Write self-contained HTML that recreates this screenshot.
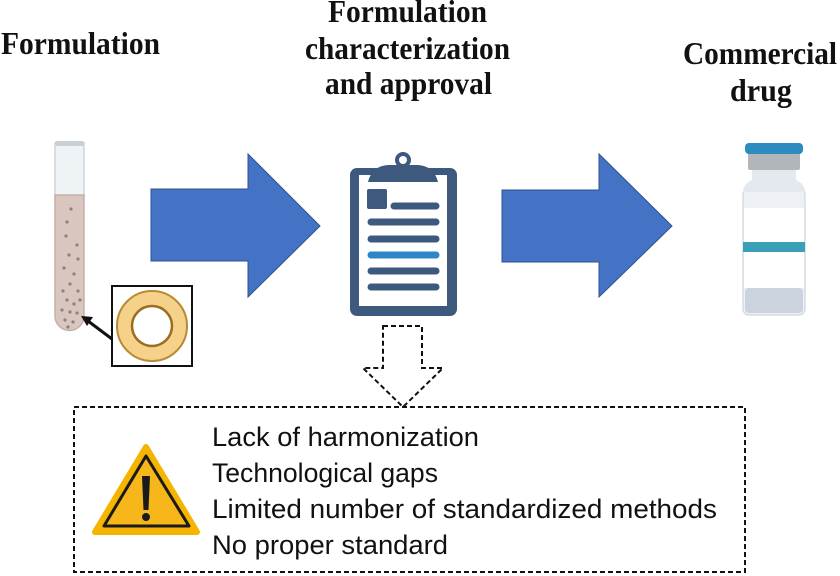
<!DOCTYPE html>
<html><head><meta charset="utf-8"><style>
html,body{margin:0;padding:0;background:#fff;}
svg{display:block;}
</style></head><body>
<svg width="840" height="576" viewBox="0 0 840 576" xmlns="http://www.w3.org/2000/svg">
<rect width="840" height="576" fill="#fff"/>
<!-- Headings -->
<g font-family="'Liberation Serif', serif" font-weight="bold" fill="#111">
<text x="1" y="54" font-size="32" textLength="159" lengthAdjust="spacingAndGlyphs">Formulation</text>
<text x="328" y="22" font-size="32" textLength="159" lengthAdjust="spacingAndGlyphs">Formulation</text>
<text x="305" y="59" font-size="32" textLength="205" lengthAdjust="spacingAndGlyphs">characterization</text>
<text x="325" y="94" font-size="32" textLength="167" lengthAdjust="spacingAndGlyphs">and approval</text>
<text x="683" y="64" font-size="32" textLength="154" lengthAdjust="spacingAndGlyphs">Commercial</text>
<text x="730" y="101" font-size="32" textLength="62" lengthAdjust="spacingAndGlyphs">drug</text>
</g>
<!-- Blue arrows -->
<polygon points="151,189 248,189 248,154 320,226 248,297 248,261 151,261" fill="#4472C4" stroke="#2F528F" stroke-width="1"/>
<polygon points="502,190 599,190 599,154 672,226 599,297 599,262 502,262" fill="#4472C4" stroke="#2F528F" stroke-width="1"/>
<!-- Test tube -->
<rect x="55" y="143" width="29" height="56" fill="#EEF3F6" stroke="#CDD5DA" stroke-width="1.5"/>
<rect x="55" y="141" width="29" height="5" rx="2" fill="#C9D0D5"/>
<path d="M55,195 L84,195 L84,316 A14.5,14.5 0 0 1 55,316 Z" fill="#D9C6BF" stroke="#C5B1AA" stroke-width="1.5"/>
<g fill="#8E817D">
<circle cx="71" cy="209" r="1.6"/><circle cx="67" cy="222" r="1.6"/><circle cx="66" cy="236" r="1.6"/><circle cx="77" cy="245" r="1.6"/>
<circle cx="69" cy="255" r="1.6"/><circle cx="78" cy="259" r="1.6"/><circle cx="64" cy="268" r="1.6"/><circle cx="74" cy="274" r="1.6"/>
<circle cx="70" cy="284" r="1.6"/><circle cx="63" cy="291" r="1.6"/><circle cx="78" cy="291" r="1.6"/><circle cx="67" cy="300" r="1.6"/>
<circle cx="74" cy="304" r="1.6"/><circle cx="80" cy="300" r="1.6"/><circle cx="62" cy="310" r="1.6"/><circle cx="70" cy="312" r="1.6"/>
<circle cx="77" cy="313" r="1.6"/><circle cx="65" cy="320" r="1.6"/><circle cx="73" cy="322" r="1.6"/><circle cx="68" cy="327" r="1.6"/>
</g>
<!-- Inset box with liposome -->
<rect x="112" y="286" width="80" height="80" fill="#fff" stroke="#111" stroke-width="2"/>
<circle cx="152" cy="326" r="35" fill="#F6D189" stroke="#B88A36" stroke-width="2"/>
<circle cx="152" cy="326" r="20" fill="#fff" stroke="#9A6E22" stroke-width="2.5"/>
<line x1="112" y1="339" x2="88" y2="321" stroke="#111" stroke-width="3"/>
<polygon points="81,316 93,317 87,326" fill="#111"/>
<!-- Clipboard -->
<rect x="350" y="168" width="107" height="148" rx="7" fill="#3D5A7E"/>
<rect x="359" y="175" width="88" height="131" fill="#fff"/>
<path d="M368,182 Q372,166 388,165 L418,165 Q434,166 438,182 Z" fill="#3D5A7E"/>
<circle cx="403" cy="160" r="6" fill="none" stroke="#3D5A7E" stroke-width="4"/>
<rect x="367" y="189" width="20" height="20" rx="2" fill="#3D5A7E"/>
<g stroke-linecap="round" stroke-width="7">
<line x1="394" y1="206" x2="436" y2="206" stroke="#3D5A7E"/>
<line x1="371" y1="222" x2="436" y2="222" stroke="#3D5A7E"/>
<line x1="371" y1="239" x2="436" y2="239" stroke="#3D5A7E"/>
<line x1="371" y1="255" x2="436" y2="255" stroke="#2E86C8"/>
<line x1="371" y1="271" x2="436" y2="271" stroke="#3D5A7E"/>
<line x1="371" y1="287" x2="436" y2="287" stroke="#3D5A7E"/>
</g>
<!-- Vial -->
<rect x="743" y="188" width="62" height="127" rx="6" fill="#EDF1F5" stroke="#CDD5DD" stroke-width="1.2"/>
<path d="M752,170 L796,170 L796,180 Q805,184 805,192 L743,192 Q743,184 752,180 Z" fill="#E3E9EF"/>
<rect x="744" y="208" width="60" height="80" fill="#FFFFFF"/>
<rect x="743" y="242" width="62" height="10" fill="#3AA0B8"/>
<rect x="745" y="288" width="58" height="25" rx="4" fill="#CBD3DF"/>
<rect x="748" y="153" width="52" height="17" rx="2" fill="#B2B6BA"/>
<rect x="745" y="143" width="58" height="11" rx="4" fill="#2E8BC0"/>
<!-- Dashed down arrow -->
<polygon points="383,326 422,326 422,368 443,368 403,407 363,368 383,368" fill="#fff" stroke="#111" stroke-width="2" stroke-dasharray="5,3"/>
<!-- Dashed box -->
<rect x="74" y="407" width="671" height="165" fill="none" stroke="#111" stroke-width="2" stroke-dasharray="5,3"/>
<!-- Warning triangle -->
<path d="M146,447 L95,532 L197,532 Z" fill="#F5B400" stroke="#F5B400" stroke-width="6" stroke-linejoin="round"/>
<path d="M146,456 L104,526 L189,526 Z" fill="#F7B71A" stroke="#1a1a1a" stroke-width="3" stroke-linejoin="round"/>
<path d="M142,476 L150,476 L148.5,510 L143.5,510 Z" fill="#1a1a1a"/>
<circle cx="146" cy="517" r="4" fill="#1a1a1a"/>
<!-- Box text -->
<g font-family="'Liberation Sans', sans-serif" font-size="27" fill="#111">
<text x="212" y="446" textLength="267" lengthAdjust="spacingAndGlyphs">Lack of harmonization</text>
<text x="212" y="482" textLength="226" lengthAdjust="spacingAndGlyphs">Technological gaps</text>
<text x="212" y="518" textLength="505" lengthAdjust="spacingAndGlyphs">Limited number of standardized methods</text>
<text x="212" y="554" textLength="236" lengthAdjust="spacingAndGlyphs">No proper standard</text>
</g>
</svg>
</body></html>
